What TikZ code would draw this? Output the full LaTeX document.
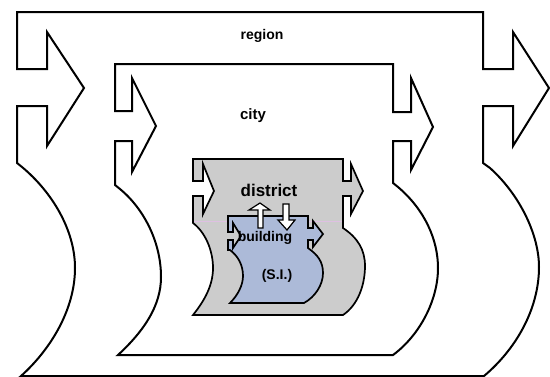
\documentclass[tikz,border=0pt]{standalone}
\usepackage{fontspec}
\setmainfont{Liberation Sans}
\definecolor{distgray}{RGB}{204,204,204}
\definecolor{bldblue}{RGB}{172,186,216}
\definecolor{pinkline}{RGB}{222,192,226}
\begin{document}
\begin{tikzpicture}[x=1pt,y=-1pt,
  outer/.style={draw=black,line width=2pt,line join=miter,fill=white},
  inner/.style={draw=black,line width=1.7pt,line join=miter},
  blockarrow/.style={draw=black,line width=1.2pt,fill=white,line join=miter},
  lbl/.style={font=\bfseries\fontsize{14}{16}\selectfont,inner sep=0pt}]
\useasboundingbox (0,0) rectangle (550,376);
\fill[white] (0,0) rectangle (550,376);
% region
\path[outer] (17,12) -- (483,12) -- (483,69) -- (513,69) -- (513,32) -- (549,88) -- (513,146) -- (513,106) -- (483,106) -- (483,163) -- (490,168)
  .. controls (520,195) and (539,235) .. (539,267)
  .. controls (539,310) and (515,350) .. (484,376)
  -- (21,376)
  .. controls (50,350) and (75,310) .. (75,268)
  .. controls (75,230) and (52,192) .. (22,167)
  -- (17,163) -- (17,106) -- (47,106) -- (47,146) -- (84,88) -- (47,32) -- (47,69) -- (17,69) -- cycle;
% city
\path[outer] (115,64) -- (393,64) -- (393,112) -- (411,112) -- (411,78) -- (433,127) -- (411,170) -- (411,141) -- (393,141) -- (393,183) -- (398,187)
  .. controls (425,210) and (438,240) .. (438,268)
  .. controls (438,300) and (420,335) .. (393,355)
  -- (118,355)
  .. controls (145,330) and (161,305) .. (161,277)
  .. controls (161,240) and (142,207) .. (120,189)
  -- (115,185) -- (115,141) -- (132,141) -- (132,172) -- (156,126) -- (132,78) -- (132,111) -- (115,111) -- cycle;
% district
\path[inner,fill=distgray] (193,159) -- (343,159) -- (343,181) -- (351,181) -- (351,164) -- (363,191) -- (351,214) -- (351,196) -- (343,196) -- (343,228)
  .. controls (358,238) and (365,250) .. (365,266)
  .. controls (365,285) and (358,305) .. (343,315)
  -- (193,315)
  .. controls (205,300) and (213,285) .. (213,268)
  .. controls (213,250) and (205,232) .. (193,223)
  -- (193,196) -- (203,196) -- (203,214) -- (214,191) -- (203,164) -- (203,181) -- (193,181) -- cycle;
\draw[pinkline,line width=1pt] (194,221) -- (342,221);
% building
\path[inner,fill=bldblue] (228,216) -- (308,216) -- (308,228) -- (313,228) -- (313,221) -- (323,234) -- (313,247) -- (313,240) -- (308,240) -- (308,248)
  .. controls (318,255) and (323,262) .. (323,273)
  .. controls (323,285) and (315,297) .. (304,303)
  -- (230,303)
  .. controls (238,295) and (243,285) .. (243,276)
  .. controls (243,265) and (238,256) .. (230,250)
  -- (228,250) -- (228,240) -- (233,240) -- (233,248) -- (241,236) -- (233,223) -- (233,232) -- (228,232) -- cycle;
% labels
\node[lbl] (region) at (262,36) {region};
\node[lbl,font=\bfseries\fontsize{15}{17}\selectfont] (city) at (253,116) {city};
\node[lbl,font=\bfseries\fontsize{17}{19}\selectfont] (district) at (269,190) {district};
\node[lbl] (building) at (265,238) {building};
\node[lbl] (si) at (277,276) {(S.I.)};
% up / down arrows
\path[blockarrow] (258,228) -- (258,210) -- (249,210) -- (260,203) -- (270,210) -- (263,210) -- (263,228) -- cycle;
\path[blockarrow] (283,204) -- (289,204) -- (289,220) -- (295,220) -- (287,230) -- (278,220) -- (283,220) -- cycle;
\end{tikzpicture}
\end{document}
